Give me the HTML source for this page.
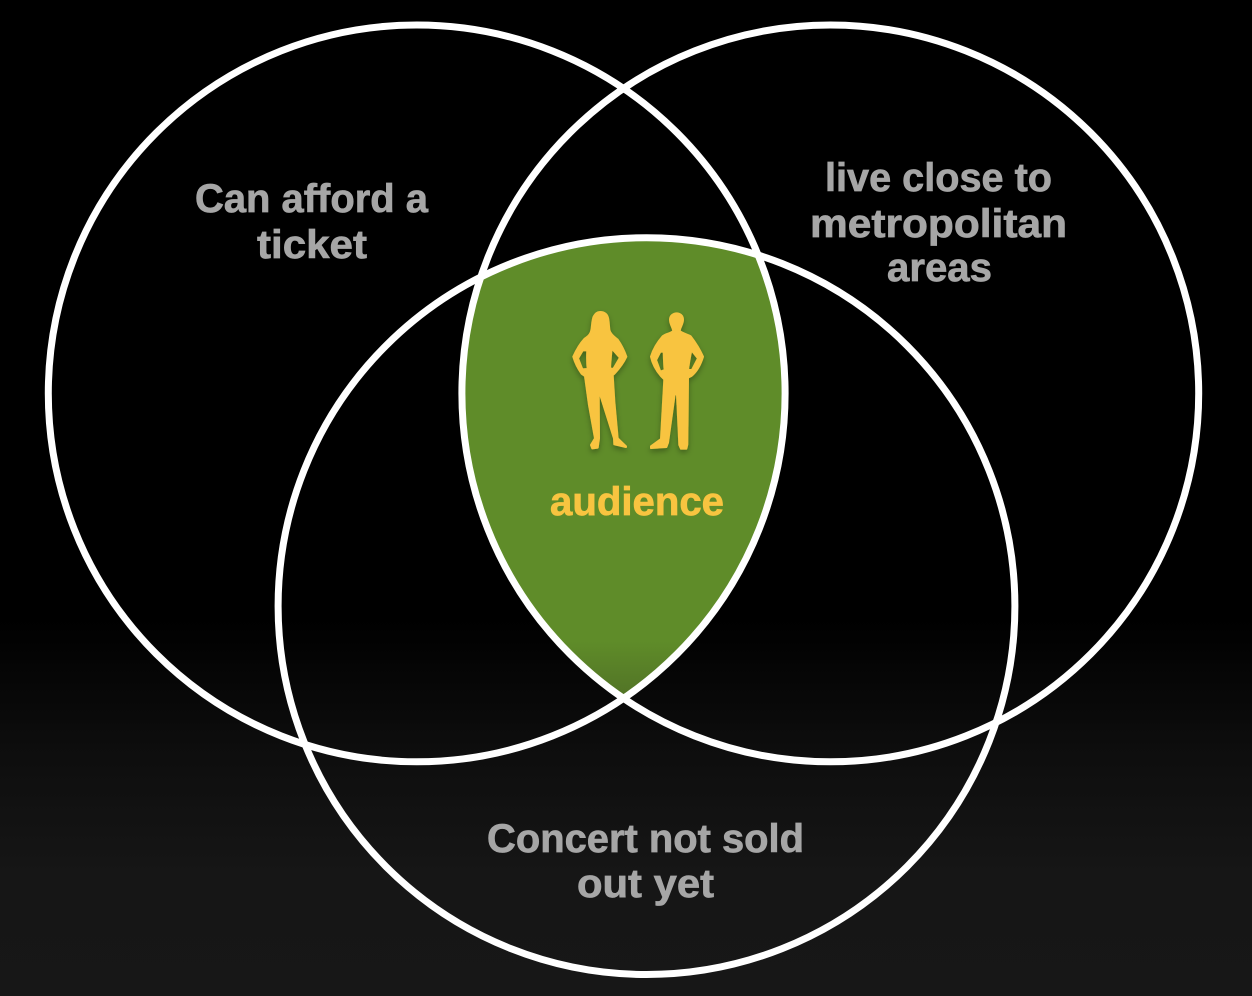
<!DOCTYPE html>
<html><head><meta charset="utf-8"><style>
html,body{margin:0;padding:0;background:#000}
svg{display:block}
text{font-family:"Liberation Sans",sans-serif;font-weight:bold;font-size:40px;fill:#a6a6a6;stroke:#a6a6a6;stroke-width:.7px}
</style></head><body>
<svg width="1252" height="996" viewBox="0 0 1252 996" xmlns="http://www.w3.org/2000/svg">
<defs>
<linearGradient id="bg" x1="0" y1="0" x2="0" y2="1">
<stop offset="0" stop-color="#000"/><stop offset="0.62" stop-color="#000"/><stop offset="0.76" stop-color="#0e0e0e"/><stop offset="0.88" stop-color="#161616"/><stop offset="1" stop-color="#171717"/>
</linearGradient>
<linearGradient id="gr" x1="0" y1="0" x2="0" y2="1">
<stop offset="0" stop-color="#5f8c29"/><stop offset="0.875" stop-color="#5f8c29"/><stop offset="1" stop-color="#517226"/>
</linearGradient>
<clipPath id="cl"><circle cx="416.7" cy="393.4" r="368.4"/></clipPath>
<clipPath id="cr"><circle cx="830.3" cy="393.4" r="368.4"/></clipPath>
<clipPath id="cb"><circle cx="646.5" cy="606.1" r="368.4"/></clipPath>
<filter id="sh" x="-20%" y="-20%" width="140%" height="140%"><feDropShadow dx="0" dy="3" stdDeviation="3" flood-color="#000" flood-opacity=".3"/></filter>
</defs>
<rect width="1252" height="996" fill="url(#bg)"/>
<g clip-path="url(#cl)"><g clip-path="url(#cr)"><g clip-path="url(#cb)">
<rect x="450" y="230" width="350" height="470" fill="url(#gr)"/>
</g></g></g>
<g fill="none" stroke="#fff" stroke-width="7">
<circle cx="416.7" cy="393.4" r="368.4"/>
<circle cx="830.3" cy="393.4" r="368.4"/>
<circle cx="646.5" cy="606.1" r="368.4"/>
</g>
<g fill="#f8c440" stroke="#f8c440" stroke-width="6" stroke-linejoin="round" fill-rule="evenodd" filter="url(#sh)">
<g transform="translate(565 305) scale(.33333)">
<path d="M105 21C120 21 128 30 130 44C132 58 132 72 134 78C138 90 148 96 158 104C168 118 178 138 184 155C176 172 163 190 148 206L143 210L148 290L158 400L183 424L183 426L148 418L147 400L101 254L102 400L98 428L82 430L78 420L90 400L72 300L60 213L50 206C40 192 30 172 25 155C34 135 44 117 58 102C70 94 78 88 80 70C82 55 82 45 86 35C92 26 96 21 105 21ZM53 136L39 160L52 193L68 192C66 172 66 152 67 136ZM140 130L165 158L145 192L135 190C136 170 138 150 140 130Z"/>
</g>
<g transform="translate(642 305) scale(.33333)">
<path d="M104 25C114 25 123 32 123 44C123 58 114 66 113 78C123 86 136 88 146 94C160 112 174 135 183 155C176 178 166 198 148 213L138 218L136 418L133 431L117 431L112 420L105 268L98 268L78 413L73 426L27 429L27 424L57 402L67 223L57 213C44 198 32 178 27 155C34 132 48 110 62 94C72 86 86 86 94 78C92 66 84 58 84 44C84 32 94 25 104 25ZM55 140L42 165L55 200L68 195C66 178 66 158 65 140ZM148 135L168 160L150 195L138 195C140 176 144 155 148 135Z"/>
</g>
</g>
<text x="195" y="212" textLength="233" lengthAdjust="spacingAndGlyphs">Can afford a</text>
<text x="257" y="258" textLength="110" lengthAdjust="spacingAndGlyphs">ticket</text>
<text x="825" y="191" textLength="227" lengthAdjust="spacingAndGlyphs">live close to</text>
<text x="810" y="237" textLength="257" lengthAdjust="spacingAndGlyphs">metropolitan</text>
<text x="887" y="281" textLength="105" lengthAdjust="spacingAndGlyphs">areas</text>
<text x="550" y="515" textLength="174" lengthAdjust="spacingAndGlyphs" style="fill:#f8c440;stroke:#f8c440">audience</text>
<text x="487" y="852" textLength="317" lengthAdjust="spacingAndGlyphs">Concert not sold</text>
<text x="577" y="897" textLength="137" lengthAdjust="spacingAndGlyphs">out yet</text>
</svg>
</body></html>
